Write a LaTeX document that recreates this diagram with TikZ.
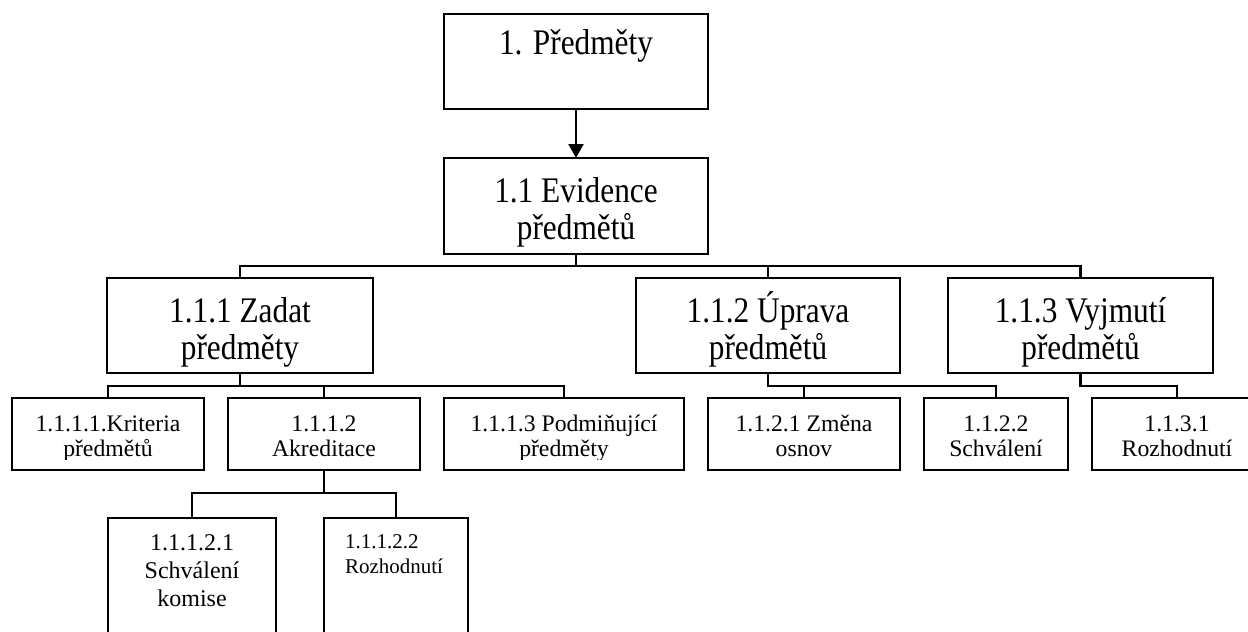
\documentclass[tikz,border=0pt]{standalone}
\usepackage{fontspec}
\setmainfont{Liberation Serif}
% a condensed cut of the same serif for the large headings
\newfontfamily\headserif{Liberation Serif}[FakeStretch=0.87]
\usetikzlibrary{arrows.meta,calc}

% lines of a label, stacked; the label's base is the first line's baseline
\newcommand\boxlines[2][c]{\begin{tabular}[t]{@{}#1@{}}#2\end{tabular}}

\begin{document}
\begin{tikzpicture}[x=1pt,y=-1pt,line width=2.5pt,
  boxst/.style={draw,rectangle,inner sep=0pt,outer sep=0pt,anchor=north west},
  lbl/.style={anchor=base,inner sep=0pt,outer sep=0pt},
  bigtxt/.style={font=\headserif\fontsize{36}{37}\selectfont},
  midtxt/.style={font=\fontsize{23.7}{25.5}\selectfont},
  tip/.style={-{Triangle[width=15pt,length=14pt]}}]

\useasboundingbox (0,0) rectangle (1248,632);
\clip (0,0) rectangle (1248,632);

% ---- boxes (top-left corner, width x height) ----
\node[boxst,minimum width=264,minimum height=95] (A)  at (444,14)  {};
\node[boxst,minimum width=264,minimum height=96] (B)  at (444,158) {};

\node[boxst,minimum width=266,minimum height=95] (C1) at (107,278) {};
\node[boxst,minimum width=264,minimum height=95] (C2) at (636,278) {};
\node[boxst,minimum width=265,minimum height=95] (C3) at (948,278) {};

\node[boxst,minimum width=192,minimum height=72] (D1) at (12,398)   {};
\node[boxst,minimum width=192,minimum height=72] (D2) at (228,398)  {};
\node[boxst,minimum width=240,minimum height=72] (D3) at (444,398)  {};
\node[boxst,minimum width=192,minimum height=72] (D4) at (708,398)  {};
\node[boxst,minimum width=144,minimum height=72] (D5) at (924,398)  {};
\node[boxst,minimum width=170,minimum height=72] (D6) at (1092,398) {};

\node[boxst,minimum width=168,minimum height=150] (E1) at (108,518) {};
\node[boxst,minimum width=144,minimum height=150] (E2) at (324,518) {};

% ---- connectors ----
\draw[tip] (A.south) -- (B.north);

\draw (B.south) |- ([yshift=12pt]C1.north) -- (C1.north);
\draw (B.south) |- ([yshift=12pt]C2.north) -- (C2.north);
\draw (B.south) |- ([yshift=12pt]C3.north) -- (C3.north);

\draw (C1.south) |- ([yshift=12pt]D1.north) -- (D1.north);
\draw (C1.south) |- ([yshift=12pt]D2.north) -- (D2.north);
\draw (C1.south) |- ([yshift=12pt]D3.north) -- (D3.north);

\draw (C2.south) |- ([yshift=12pt]D4.north) -- (D4.north);
\draw (C2.south) |- ([yshift=12pt]D5.north) -- (D5.north);

\draw (C3.south) |- ([yshift=12pt]D6.north) -- (D6.north);

\draw (D2.south) |- ([yshift=25pt]E1.north) -- (E1.north);
\draw (D2.south) |- ([yshift=25pt]E2.north) -- (E2.north);

% ---- labels ----
\node[lbl,bigtxt] (tA)  at ($(A.north)+(0,40)$)  {1. Předměty};
\node[lbl,bigtxt] (tB)  at ($(B.north)+(0,44)$)  {\boxlines{1.1 Evidence\\předmětů}};
\node[lbl,bigtxt] (tC1) at ($(C1.north)+(0,44)$) {\boxlines{1.1.1 Zadat\\předměty}};
\node[lbl,bigtxt] (tC2) at ($(C2.north)+(0,44)$) {\boxlines{1.1.2 Úprava\\předmětů}};
\node[lbl,bigtxt] (tC3) at ($(C3.north)+(0,44)$) {\boxlines{1.1.3 Vyjmutí\\předmětů}};

% the second lines of these three run into the box bottom and are cut off
\begin{scope}
  \clip (0,0) rectangle (1248,459);
  \node[lbl,midtxt] (tD1) at ($(D1.north)+(0,33)$) {\boxlines{1.1.1.1.Kriteria\\předmětů}};
  \node[lbl,midtxt] (tD2) at ($(D2.north)+(0,33)$) {\boxlines{1.1.1.2\\Akreditace}};
  \node[lbl,midtxt] (tD3) at ($(D3.north)+(0,33)$) {\boxlines{1.1.1.3 Podmiňující\\předměty}};
\end{scope}
\node[lbl,midtxt] (tD4) at ($(D4.north)+(0,33)$) {\boxlines{1.1.2.1 Změna\\osnov}};
\node[lbl,midtxt] (tD5) at ($(D5.north)+(0,33)$) {\boxlines{1.1.2.2\\Schválení}};
\node[lbl,midtxt] (tD6) at ($(D6.north)+(0,33)$) {\boxlines{1.1.3.1\\Rozhodnutí}};

\node[lbl,font=\fontsize{24}{28}\selectfont] (tE1) at ($(E1.north)+(0,32)$)
  {\boxlines{1.1.1.2.1\\Schválení\\komise}};
\node[lbl,anchor=base west,font=\fontsize{21}{25}\selectfont] (tE2) at ($(E2.north west)+(21,30)$)
  {\boxlines[l]{1.1.1.2.2\\Rozhodnutí}};
\end{tikzpicture}
\end{document}
